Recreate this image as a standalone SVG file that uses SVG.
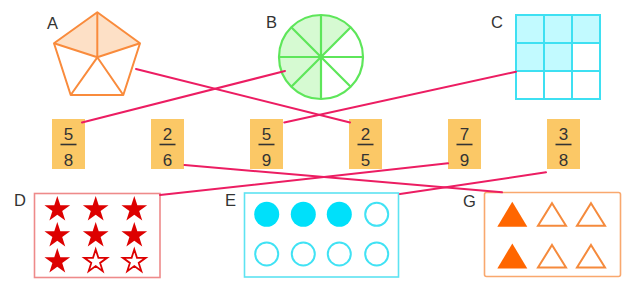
<svg xmlns="http://www.w3.org/2000/svg" width="637" height="292" viewBox="0 0 637 292">
<style>
.lbl{font-family:"Liberation Sans",Arial,sans-serif;font-size:16.5px;fill:#333}
.num{font-family:"Liberation Sans",Arial,sans-serif;font-size:17px;fill:#333;text-anchor:middle}
.card{fill:#FBC866}
.bar{stroke:#333;stroke-width:1.6}
.conn{stroke:#EC1D62;stroke-width:2;fill:none;stroke-linecap:round}
.pent{stroke:#F98B3C;stroke-width:2;fill:none;stroke-linejoin:round}
.pie{stroke:#5EE65A;stroke-width:2.2;fill:none}
.grid{stroke:#3EE0F2;stroke-width:2;fill:none}
</style>
<defs>
<path id="star" d="M0,-13.5 L3.03,-4.17 L12.84,-4.17 L4.91,1.59 L7.94,10.92 L0,5.16 L-7.94,10.92 L-4.91,1.59 L-12.84,-4.17 L-3.03,-4.17 Z"/>
<path id="starO" d="M0,-12 L2.7,-3.7 L11.4,-3.7 L4.4,1.4 L7.05,9.7 L0,4.6 L-7.05,9.7 L-4.4,1.4 L-11.4,-3.7 L-2.7,-3.7 Z"/>
<path id="tri" d="M0,-12.5 L15,12.5 L-15,12.5 Z"/>
<path id="triO" d="M0,-11 L14,11.5 L-14,11.5 Z"/>
</defs>

<g id="nodeA">
<polygon points="97.3,12.3 140,43.3 97.3,57.3 54,43.3" fill="#FDE0C6"/>
<polygon class="pent" points="97.3,12.3 140,43.3 123.3,95 70.7,95 54,43.3"/>
<path class="pent" d="M97.3,12.3 L97.3,57.3 M54,43.3 L97.3,57.3 L140,43.3 M70.7,95 L97.3,57.3 L123.3,95"/>
<text class="lbl" x="47" y="28.5">A</text>
</g>

<g id="nodeB">
<path d="M321,57 L350.7,27.3 A42,42 0 1,0 321,99 Z" fill="#D6FAD2"/>
<circle class="pie" cx="321" cy="57" r="42"/>
<path class="pie" d="M321,15 L321,99 M279,57 L363,57 M291.3,27.3 L350.7,86.7 M350.7,27.3 L291.3,86.7"/>
<circle cx="321" cy="57" r="2.5" fill="#5EE65A"/>
<text class="lbl" x="266" y="28">B</text>
</g>

<g id="nodeC">
<rect x="516" y="15" width="84" height="28" fill="#C2FAFF"/>
<rect x="516" y="43" width="56" height="28" fill="#C2FAFF"/>
<rect class="grid" x="516" y="15" width="84" height="84"/>
<path class="grid" d="M544,15 V99 M572,15 V99 M516,43 H600 M516,71 H600"/>
<text class="lbl" x="491" y="28">C</text>
</g>

<g id="card58">
<rect class="card" x="52" y="119" width="33" height="50"/>
<text class="num" x="68.5" y="140">5</text>
<line class="bar" x1="60.5" y1="144.5" x2="76.5" y2="144.5"/>
<text class="num" x="68.5" y="165.5">8</text>
</g>
<g id="card26">
<rect class="card" x="151" y="119" width="33" height="50"/>
<text class="num" x="167.5" y="140">2</text>
<line class="bar" x1="159.5" y1="144.5" x2="175.5" y2="144.5"/>
<text class="num" x="167.5" y="165.5">6</text>
</g>
<g id="card59">
<rect class="card" x="250" y="119" width="33" height="50"/>
<text class="num" x="266.5" y="140">5</text>
<line class="bar" x1="258.5" y1="144.5" x2="274.5" y2="144.5"/>
<text class="num" x="266.5" y="165.5">9</text>
</g>
<g id="card25">
<rect class="card" x="349" y="119" width="33" height="50"/>
<text class="num" x="365.5" y="140">2</text>
<line class="bar" x1="357.5" y1="144.5" x2="373.5" y2="144.5"/>
<text class="num" x="365.5" y="165.5">5</text>
</g>
<g id="card79">
<rect class="card" x="448" y="119" width="33" height="50"/>
<text class="num" x="464.5" y="140">7</text>
<line class="bar" x1="456.5" y1="144.5" x2="472.5" y2="144.5"/>
<text class="num" x="464.5" y="165.5">9</text>
</g>
<g id="card38">
<rect class="card" x="547" y="119" width="33" height="50"/>
<text class="num" x="563.5" y="140">3</text>
<line class="bar" x1="555.5" y1="144.5" x2="571.5" y2="144.5"/>
<text class="num" x="563.5" y="165.5">8</text>
</g>

<g id="nodeD">
<rect x="34.5" y="193.5" width="125.5" height="84" fill="#fff" stroke="#EE8A8A" stroke-width="1.6"/>
<g fill="#DD0000">
<use href="#star" x="57.3" y="209.5"/><use href="#star" x="95.7" y="209.5"/><use href="#star" x="134.3" y="209.5"/>
<use href="#star" x="57.3" y="235.5"/><use href="#star" x="95.7" y="235.5"/><use href="#star" x="134.3" y="235.5"/>
<use href="#star" x="57.3" y="261.5"/>
</g>
<g fill="#fff" stroke="#DD0000" stroke-width="1.8" stroke-linejoin="miter">
<use href="#starO" x="95.7" y="261.5"/><use href="#starO" x="134.3" y="261.5"/>
</g>
<text class="lbl" x="14" y="205.5">D</text>
</g>

<g id="nodeE">
<rect x="244.5" y="193" width="154" height="84" fill="#fff" stroke="#5DE3F2" stroke-width="1.6"/>
<g fill="#00E0FA">
<circle cx="266.7" cy="214.3" r="12.5"/><circle cx="303.3" cy="214.3" r="12.5"/><circle cx="339.3" cy="214.3" r="12.5"/>
</g>
<g fill="#fff" stroke="#40E2F4" stroke-width="2">
<circle cx="376.7" cy="214.3" r="11.5"/>
<circle cx="266.7" cy="254" r="11.5"/><circle cx="303.3" cy="254" r="11.5"/><circle cx="339.3" cy="254" r="11.5"/><circle cx="376.7" cy="254" r="11.5"/>
</g>
<text class="lbl" x="225" y="206">E</text>
</g>

<g id="nodeG">
<rect x="484.5" y="192.5" width="136" height="84" rx="2" fill="#fff" stroke="#F9A86E" stroke-width="1.6"/>
<g fill="#FF6600">
<use href="#tri" x="512.3" y="214.2"/><use href="#tri" x="512.3" y="256"/>
</g>
<g fill="#fff" stroke="#F58A3C" stroke-width="2" stroke-linejoin="miter">
<use href="#triO" x="552" y="214.2"/><use href="#triO" x="591" y="214.2"/>
<use href="#triO" x="552" y="256"/><use href="#triO" x="591" y="256"/>
</g>
<text class="lbl" x="463" y="206.5">G</text>
</g>

<g id="connectors">
<line class="conn" x1="136" y1="69" x2="350" y2="122.5"/>
<line class="conn" x1="285" y1="71" x2="82" y2="122.5"/>
<line class="conn" x1="516" y1="71.7" x2="284.3" y2="122.5"/>
<line class="conn" x1="184.5" y1="165" x2="502" y2="192.3"/>
<line class="conn" x1="448" y1="163.3" x2="160" y2="195"/>
<line class="conn" x1="546" y1="172.3" x2="400" y2="194"/>
</g>
</svg>
